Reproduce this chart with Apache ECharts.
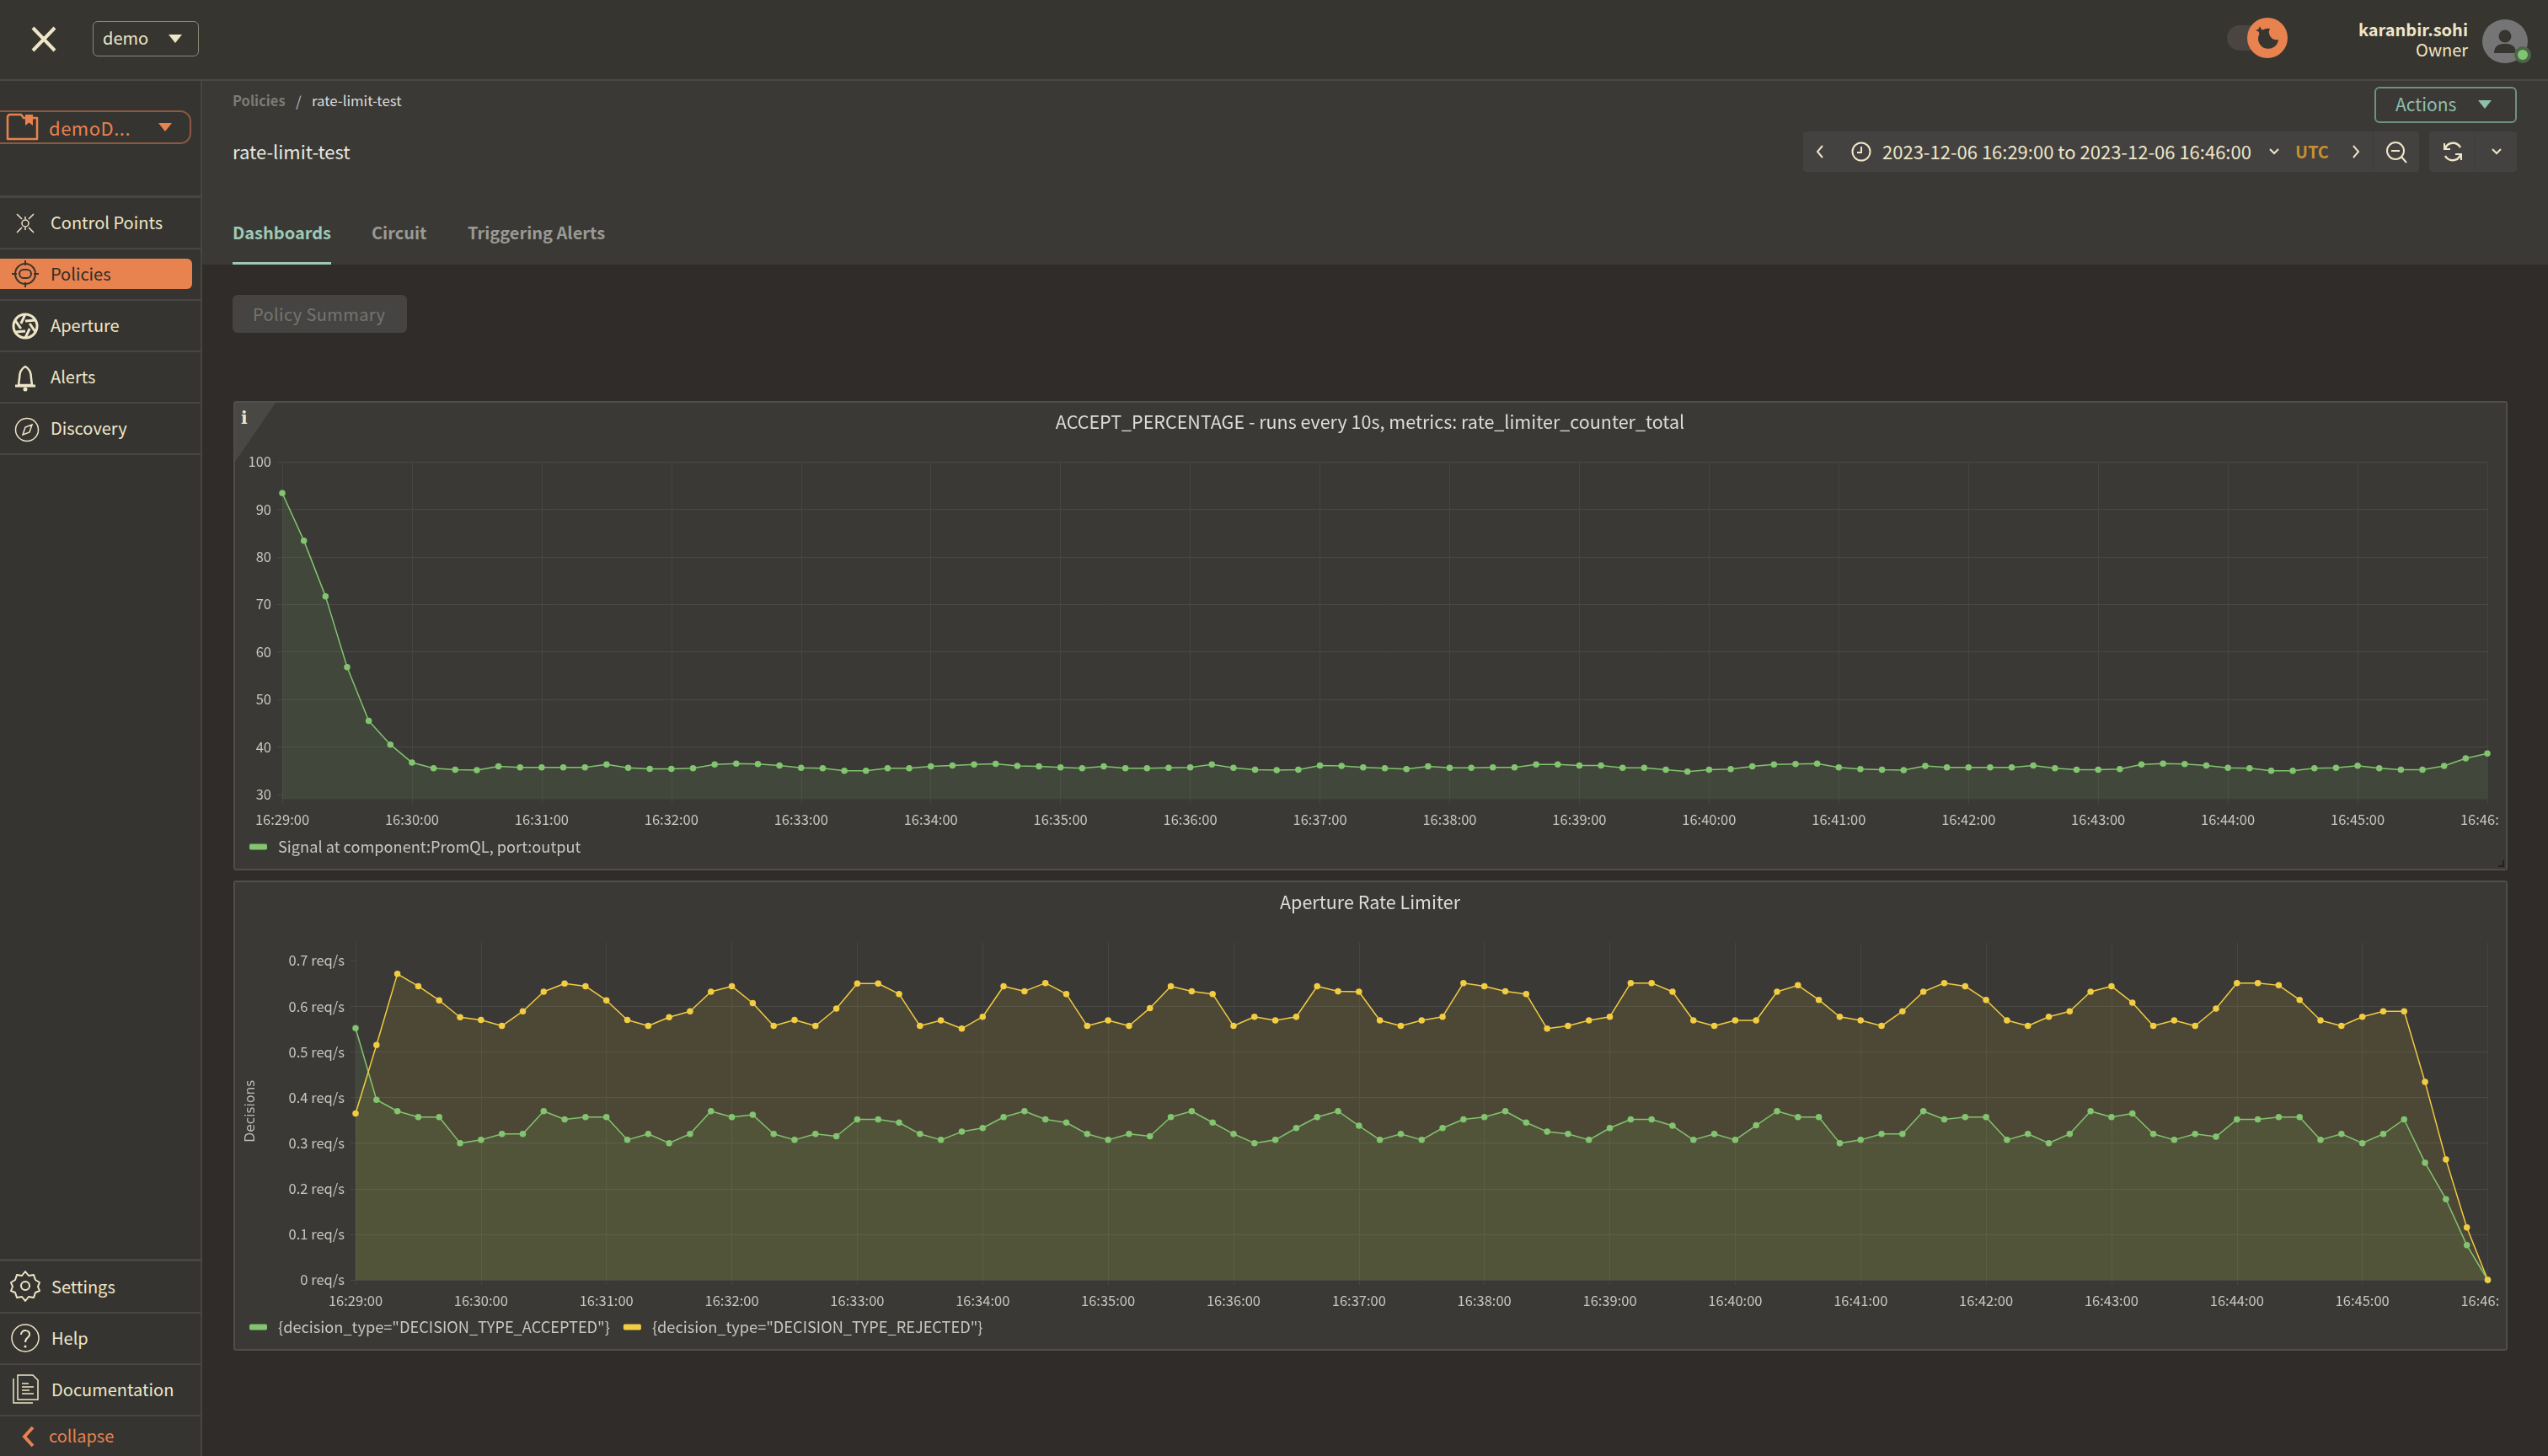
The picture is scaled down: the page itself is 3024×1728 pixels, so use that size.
<!DOCTYPE html>
<html>
<head>
<meta charset="utf-8">
<script src="https://cdn.jsdelivr.net/npm/echarts@6/dist/echarts.min.js"></script>
<style>
html,body{margin:0;padding:0;width:3024px;height:1728px;overflow:hidden;background:#302c29;font-family:"Noto Sans CJK SC","Noto Sans",sans-serif;color:#efe6c8}
.b{position:absolute;box-sizing:border-box}
.t{position:absolute;white-space:nowrap;line-height:1;transform:translateY(calc(-50% - 1.5px))}
.nav{font-size:20px;left:60px;color:#efe6c8}
.dv{position:absolute;left:0;width:238px;height:2px;background:#474643}
svg{position:absolute;overflow:visible}
.panel{position:absolute;box-sizing:border-box;background:#3a3935;border:2px solid #4f4e4b;border-radius:3px}
.chart{position:absolute;left:279px;width:2686px;height:552px}
</style>
</head>
<body>
<!-- frame -->
<div class="b" style="left:0;top:0;width:3024px;height:94px;background:#363530"></div>
<div class="b" style="left:0;top:94px;width:3024px;height:2px;background:#4a4946"></div>
<div class="b" style="left:0;top:96px;width:238px;height:1632px;background:#353430"></div>
<div class="b" style="left:238px;top:96px;width:2px;height:1632px;background:#474643"></div>
<div class="b" style="left:240px;top:96px;width:2784px;height:218px;background:#3a3935"></div>

<!-- top bar -->
<svg style="left:0;top:0" width="100" height="94"><path d="M39 33L65 60M65 33L39 60" stroke="#efe6c8" stroke-width="4" fill="none"/></svg>
<div class="b" style="left:110px;top:25px;width:126px;height:42px;border:1.5px solid #8b8a74;border-radius:6px"></div>
<div class="t" style="left:122px;top:46px;font-size:20px">demo</div>
<svg style="left:200px;top:41px" width="16" height="10"><path d="M0 0H16L8 10Z" fill="#efe6c8"/></svg>

<div class="b" style="left:2643px;top:30px;width:50px;height:30px;background:#4a4541;border-radius:15px"></div>
<div class="b" style="left:2667px;top:21px;width:48px;height:48px;background:#e8824f;border-radius:50%"></div>
<svg style="left:2667px;top:21px" width="48" height="48"><path d="M27 13A12 12 0 1 0 37 26A9 9 0 0 1 27 13Z" fill="#363530"/><path d="M15 10l1.500 3.500L20 15l-3.500 1.500L15 20l-1.500-3.500L10 15l3.500-1.500Z" fill="#363530"/></svg>
<div class="t" style="right:95px;top:36px;font-size:20px;font-weight:700">karanbir.sohi</div>
<div class="t" style="right:95px;top:60px;font-size:20px">Owner</div>
<div class="b" style="left:2946px;top:23px;width:54px;height:52px;background:#757575;border-radius:50%"></div>
<svg style="left:2946px;top:23px" width="54" height="52"><circle cx="27" cy="20" r="7.500" fill="#363530"/><path d="M14 40C14 31 20 29 27 29S40 31 40 40Z" fill="#363530"/></svg>
<div class="b" style="left:2984px;top:55px;width:20px;height:20px;background:#4d6548;border-radius:50%"></div>
<div class="b" style="left:2988px;top:59px;width:12px;height:12px;background:#7fc672;border-radius:50%"></div>

<!-- sidebar -->
<div class="b" style="left:-14px;top:131px;width:241px;height:40px;border:2px solid #8d5a41;border-radius:13px"></div>
<svg style="left:8px;top:134px" width="38" height="34"><path d="M1 4V31H36V6H20L17 2H3Z" fill="none" stroke="#e8824f" stroke-width="2.500" stroke-linejoin="round"/><path d="M22 2H31V15L26.500 11.500L22 15Z" fill="#e8824f"/></svg>
<div class="t" style="left:58px;top:152px;font-size:22px;color:#e8824f;letter-spacing:.5px">demoD...</div>
<svg style="left:188px;top:146px" width="16" height="10"><path d="M0 0H16L8 10Z" fill="#e8824f"/></svg>
<div class="b" style="left:0;top:232px;width:238px;height:3px;background:#474643"></div>

<svg style="left:18px;top:252px" width="24" height="26"><circle cx="12" cy="13" r="4" fill="none" stroke="#efe6c8" stroke-width="1.500"/><path d="M2 2L8 8M22 2L16 8M2 24L8 18M22 24L16 18M12 5V8M12 18V21" stroke="#efe6c8" stroke-width="1.500"/></svg>
<div class="t nav" style="top:265px">Control Points</div>
<div class="dv" style="top:294px"></div>
<div class="b" style="left:0;top:307px;width:228px;height:36px;background:#e8824f;border-radius:0 6px 6px 0"></div>
<svg style="left:12px;top:309px" width="36" height="34"><circle cx="18" cy="16" r="12" fill="none" stroke="#363530" stroke-width="2"/><path d="M18 0V6M18 26V32M2 16H8M28 16H34" stroke="#363530" stroke-width="2"/><rect x="11" y="11" width="14" height="10" rx="5" fill="none" stroke="#363530" stroke-width="2"/></svg>
<div class="t nav" style="top:326px;color:#2f2d2a">Policies</div>
<div class="dv" style="top:355px"></div>
<svg style="left:14px;top:371px" width="32" height="32"><circle cx="16" cy="16" r="14" fill="#353430" stroke="#efe6c8" stroke-width="3"/><g stroke="#efe6c8" stroke-width="3"><path d="M16 10L28 9"/><path d="M16 10L28 9" transform="rotate(60 16 16)"/><path d="M16 10L28 9" transform="rotate(120 16 16)"/><path d="M16 10L28 9" transform="rotate(180 16 16)"/><path d="M16 10L28 9" transform="rotate(240 16 16)"/><path d="M16 10L28 9" transform="rotate(300 16 16)"/></g></svg>
<div class="t nav" style="top:387px">Aperture</div>
<div class="dv" style="top:416px"></div>
<svg style="left:17px;top:433px" width="26" height="32"><path d="M13 2C7 5 6 10 6 16L5 24H21L20 16C20 10 19 5 13 2Z" fill="none" stroke="#efe6c8" stroke-width="2.500"/><path d="M1 25H25" stroke="#efe6c8" stroke-width="3"/><circle cx="13" cy="29" r="2.500" fill="#efe6c8"/></svg>
<div class="t nav" style="top:448px">Alerts</div>
<div class="dv" style="top:477px"></div>
<svg style="left:18px;top:496px" width="28" height="28"><circle cx="14" cy="14" r="13.500" fill="none" stroke="#efe6c8" stroke-width="1.500"/><path d="M9 20L12 11L20 8L17 17Z" fill="none" stroke="#efe6c8" stroke-width="1.500"/></svg>
<div class="t nav" style="top:509px">Discovery</div>
<div class="dv" style="top:538px"></div>

<div class="b" style="left:0;top:1494px;width:238px;height:3px;background:#474643"></div>
<svg style="left:13px;top:1508px" width="34" height="36"><path d="M17 1l4 5 6-1 2 6 5 3-2 5 2 5-5 2-2 6-6-1-4 5-4-5-6 1-2-6-5-2 2-5-2-5 5-3 2-6 6 1Z" fill="none" stroke="#efe6c8" stroke-width="2" stroke-linejoin="round"/><circle cx="17" cy="18" r="5" fill="none" stroke="#efe6c8" stroke-width="2"/></svg>
<div class="t nav" style="top:1528px;left:61px">Settings</div>
<div class="dv" style="top:1557px"></div>
<svg style="left:13px;top:1571px" width="34" height="34"><circle cx="17" cy="17" r="16" fill="none" stroke="#efe6c8" stroke-width="1.500"/><path d="M12 13C12 6 23 7 22 13C22 17 17 16 17 22" fill="none" stroke="#efe6c8" stroke-width="2"/><circle cx="17" cy="27" r="1.500" fill="#efe6c8"/></svg>
<div class="t nav" style="top:1589px;left:61px">Help</div>
<div class="dv" style="top:1618px"></div>
<svg style="left:15px;top:1631px" width="32" height="36"><path d="M6 1H24L30 7V30H6Z" fill="none" stroke="#efe6c8" stroke-width="1.500"/><path d="M1 5V34H24" fill="none" stroke="#efe6c8" stroke-width="1.500"/><path d="M11 11H19M11 15H25M11 19H20M11 23H25" stroke="#efe6c8" stroke-width="1.500"/></svg>
<div class="t nav" style="top:1650px;left:61px">Documentation</div>
<div class="dv" style="top:1679px"></div>
<svg style="left:26px;top:1692px" width="16" height="26"><path d="M13 2L3 13L13 24" fill="none" stroke="#e8824f" stroke-width="4"/></svg>
<div class="t nav" style="top:1705px;left:58px;color:#e8824f">collapse</div>

<!-- header -->
<div class="t" style="left:276px;top:121px;font-size:16.500px;font-weight:700;color:#7c7b78">Policies</div>
<div class="t" style="left:351px;top:121px;font-size:17px;color:#b9b8b4">/</div>
<div class="t" style="left:370px;top:121px;font-size:16.800px;color:#dcdcd8">rate-limit-test</div>
<div class="t" style="left:276px;top:180px;font-size:22px;color:#e8e8e0">rate-limit-test</div>
<div class="t" style="left:276px;top:277px;font-size:20px;font-weight:700;color:#9ec9b6">Dashboards</div>
<div class="t" style="left:441px;top:277px;font-size:20px;font-weight:700;color:#9a9a94">Circuit</div>
<div class="t" style="left:555px;top:277px;font-size:20px;font-weight:700;color:#9a9a94">Triggering Alerts</div>
<div class="b" style="left:276px;top:311px;width:117px;height:3px;background:#9ec9b6"></div>
<div class="b" style="left:276px;top:350px;width:207px;height:45px;background:#454442;border-radius:6px"></div>
<div class="t" style="left:300px;top:374px;font-size:20px;color:#757470;letter-spacing:.4px">Policy Summary</div>

<div class="b" style="left:2818px;top:103px;width:169px;height:43px;border:2px solid #6f9183;border-radius:6px"></div>
<div class="t" style="left:2843px;top:125px;font-size:21px;color:#8fbfae">Actions</div>
<svg style="left:2941px;top:119px" width="16" height="10"><path d="M0 0H16L8 10Z" fill="#8fbfae"/></svg>

<div class="b" style="left:2140px;top:156px;width:731px;height:48px;background:#434240;border-radius:4px"></div>
<div class="b" style="left:2816px;top:156px;width:1px;height:48px;background:#3d3c3a"></div>
<div class="b" style="left:2883px;top:156px;width:104px;height:48px;background:#434240;border-radius:4px"></div>
<div class="b" style="left:2936px;top:156px;width:1px;height:48px;background:#3d3c3a"></div>
<svg style="left:2155px;top:171px" width="10" height="18"><path d="M8 2L2 9L8 16" fill="none" stroke="#efe6c8" stroke-width="2"/></svg>
<svg style="left:2197px;top:168px" width="24" height="24"><circle cx="12" cy="12" r="10.500" fill="none" stroke="#efe6c8" stroke-width="2"/><path d="M12 6V13H7" fill="none" stroke="#efe6c8" stroke-width="2"/></svg>
<div class="t" style="left:2234px;top:180px;font-size:22px;color:#efe6c8">2023-12-06 16:29:00 to 2023-12-06 16:46:00</div>
<svg style="left:2693px;top:176px" width="12" height="8"><path d="M1 1L6 6L11 1" fill="none" stroke="#efe6c8" stroke-width="2"/></svg>
<div class="t" style="left:2724px;top:181px;font-size:20px;font-weight:700;color:#c8902f">UTC</div>
<svg style="left:2791px;top:171px" width="10" height="18"><path d="M2 2L8 9L2 16" fill="none" stroke="#efe6c8" stroke-width="2"/></svg>
<svg style="left:2832px;top:168px" width="26" height="26"><circle cx="11" cy="11" r="10" fill="none" stroke="#efe6c8" stroke-width="2"/><path d="M6 11H16M18 18L24 25" stroke="#efe6c8" stroke-width="2"/></svg>
<svg style="left:2899px;top:167px" width="24" height="26"><path d="M21 8A10 10 0 0 0 3 9M3 18A10 10 0 0 0 21 17" fill="none" stroke="#efe6c8" stroke-width="2.500"/><path d="M2 3V10H9M22 23V16H15" fill="none" stroke="#efe6c8" stroke-width="2"/></svg>
<svg style="left:2957px;top:176px" width="12" height="8"><path d="M1 1L6 6L11 1" fill="none" stroke="#efe6c8" stroke-width="2"/></svg>

<!-- panels -->
<div class="panel" style="left:277px;top:476px;width:2699px;height:557px"></div>
<svg style="left:279px;top:478px" width="50" height="72"><path d="M0 0H48L0 70Z" fill="#4a4844"/></svg>
<div class="t" style="left:286px;top:497px;font-size:20px;font-weight:700;font-family:'DejaVu Serif',serif;color:#efe6c8">i</div>
<svg style="left:2964px;top:1020px" width="10" height="10"><path d="M7 1V8H1" fill="none" stroke="#222" stroke-width="2"/></svg>
<div class="panel" style="left:277px;top:1045px;width:2699px;height:558px"></div>

<div id="chart1" class="chart" style="top:478px"></div>
<div id="chart2" class="chart" style="top:1048px"></div>

<script>
const FONT = '"Noto Sans CJK SC","Noto Sans",sans-serif';

const timeLabels = [];
for (let m = 29; m <= 46; m++) {
  for (let s = 0; s < 60; s += 10) {
    if (m === 46 && s > 0) break;
    timeLabels.push('16:' + m + ':' + String(s).padStart(2, '0'));
  }
}

const acceptTicks = [30, 40, 50, 60, 70, 80, 90, 100];
const decisionTicks = [0, 0.1, 0.2, 0.3, 0.4, 0.5, 0.6, 0.7];

const acceptPercentage = [
  93.4, 83.4, 71.7, 56.8, 45.5, 40.5, 36.7, 35.5, 35.2, 35.1, 35.9, 35.7, 35.7,
  35.7, 35.7, 36.3, 35.6, 35.4, 35.4, 35.5, 36.3, 36.5, 36.4, 36.1, 35.6, 35.5,
  35.0, 35.0, 35.5, 35.5, 35.9, 36.1, 36.3, 36.45, 36.0, 35.9, 35.7, 35.5, 35.9,
  35.5, 35.5, 35.6, 35.7, 36.3, 35.6, 35.2, 35.1, 35.2, 36.1, 36.0, 35.7, 35.5,
  35.35, 35.9, 35.6, 35.6, 35.7, 35.7, 36.3, 36.3, 36.1, 36.1, 35.6, 35.6, 35.2,
  34.8, 35.2, 35.35, 35.9, 36.3, 36.4, 36.5, 35.7, 35.35, 35.2, 35.1, 36.0, 35.7,
  35.7, 35.7, 35.7, 36.1, 35.5, 35.2, 35.2, 35.35, 36.3, 36.5, 36.4, 36.1, 35.6,
  35.5, 35.0, 35.0, 35.5, 35.6, 36.05, 35.5, 35.2, 35.2, 36.0, 37.6, 38.6
];

const acceptedDecisions = [
  .552, .395, .37, .357, .357, .30, .307, .32, .32, .37, .352, .357, .357, .307,
  .32, .30, .32, .37, .357, .362, .32, .307, .32, .315, .352, .352, .345, .32,
  .307, .325, .333, .357, .37, .352, .345, .32, .307, .32, .315, .357, .37, .345,
  .32, .30, .307, .333, .357, .37, .338, .307, .32, .307, .333, .352, .357, .37,
  .345, .325, .32, .307, .333, .352, .352, .338, .307, .32, .307, .339, .37, .357,
  .357, .30, .307, .32, .32, .37, .352, .357, .357, .307, .32, .30, .32, .37,
  .357, .365, .32, .307, .32, .314, .352, .352, .357, .357, .307, .32, .30, .32,
  .352, .257, .177, .076, 0
];

const rejectedDecisions = [
  .365, .515, .671, .644, .613, .576, .57, .557, .589, .632, .65, .644, .613, .57,
  .557, .576, .589, .632, .644, .607, .557, .57, .557, .595, .65, .65, .627, .557,
  .569, .551, .577, .644, .633, .651, .627, .557, .569, .557, .596, .644, .633,
  .627, .557, .577, .569, .577, .644, .633, .632, .569, .557, .569, .577, .651,
  .644, .633, .627, .551, .557, .569, .577, .651, .651, .632, .569, .557, .569,
  .569, .632, .646, .614, .577, .569, .557, .589, .632, .651, .644, .614, .569,
  .557, .577, .589, .632, .644, .608, .557, .569, .557, .595, .651, .651, .646,
  .614, .569, .557, .577, .589, .589, .434, .264, .115, 0
];

const GREEN = '#82c46f', YELLOW = '#f2cc41', LABEL = '#c8c7c2';
const HLINE = '#484844', VLINE = '#454541';

function xAxis() {
  return {
    type: 'category', data: timeLabels, boundaryGap: false,
    axisLine: { show: false },
    axisTick: { show: true, interval: 5, length: 6, lineStyle: { color: VLINE, width: 1 } },
    axisLabel: { interval: 5, margin: 16, fontSize: 16.5, fontFamily: FONT, color: LABEL, showMaxLabel: true, hideOverlap: false },
    splitLine: { show: true, interval: 5, lineStyle: { color: VLINE, width: 1 } }
  };
}

function lineSeries(name, data, color) {
  return {
    name, data, type: 'line', symbol: 'circle', symbolSize: 7.5, showSymbol: true, showAllSymbols: true,
    clip: false,
    lineStyle: { color, width: 1.5 }, itemStyle: { color, opacity: 1 },
    areaStyle: { color, opacity: 0.1 }, silent: true
  };
}

function legend(names, top) {
  return {
    data: names, left: 17, top, orient: 'horizontal', icon: 'roundRect', selectedMode: false,
    itemWidth: 21, itemHeight: 7, itemGap: 16, padding: 0,
    textStyle: { fontSize: 18.2, fontFamily: FONT, color: LABEL, padding: [0, 0, 0, 8] }
  };
}

function title(text) {
  return { text, left: 1342, top: 7, textAlign: 'center',
    textStyle: { fontSize: 21.5, fontWeight: 'normal', fontFamily: FONT, color: '#dcdcd8' } };
}

const c1 = echarts.init(document.getElementById('chart1'));
c1.setOption({
  animation: false,
  title: title('ACCEPT_PERCENTAGE - runs every 10s, metrics: rate_limiter_counter_total'),
  legend: legend(['Signal at component:PromQL, port:output'], 518),
  grid: { left: 56, top: 70, width: 2617, height: 400.5, outerBoundsMode: 'none' },
  xAxis: xAxis(),
  yAxis: {
    type: 'value', min: 29, max: 100, interval: 10,
    axisLine: { show: false },
    axisTick: { show: true, length: 6, customValues: acceptTicks, lineStyle: { color: HLINE } },
    axisLabel: { customValues: acceptTicks, margin: 13, fontSize: 16.5, fontFamily: FONT, color: LABEL },
    splitLine: { show: true, showMinLine: false, lineStyle: { color: HLINE, width: 1 } }
  },
  series: [lineSeries('Signal at component:PromQL, port:output', acceptPercentage, GREEN)]
});

const NAME_A = '{decision_type="DECISION_TYPE_ACCEPTED"}', NAME_R = '{decision_type="DECISION_TYPE_REJECTED"}';
const c2 = echarts.init(document.getElementById('chart2'));
c2.setOption({
  animation: false,
  title: title('Aperture Rate Limiter'),
  legend: legend([NAME_A, NAME_R], 518),
  grid: { left: 143, top: 70.5, width: 2530.5, height: 400.5, outerBoundsMode: 'none' },
  xAxis: xAxis(),
  yAxis: {
    type: 'value', min: 0, max: 0.74, interval: 0.1,
    name: 'Decisions', nameLocation: 'middle', nameGap: 116,
    nameTextStyle: { fontSize: 15.5, fontFamily: '"DejaVu Sans",sans-serif', color: '#bdbcb8' },
    axisLine: { show: false },
    axisTick: { show: true, length: 6, customValues: decisionTicks, lineStyle: { color: HLINE } },
    axisLabel: { customValues: decisionTicks, margin: 13, fontSize: 16.5, fontFamily: FONT, color: LABEL,
      formatter: v => v + ' req/s' },
    splitLine: { show: true, showMaxLine: false, lineStyle: { color: HLINE, width: 1 } }
  },
  series: [lineSeries(NAME_A, acceptedDecisions, GREEN), lineSeries(NAME_R, rejectedDecisions, YELLOW)]
});
</script>
</body>
</html>
